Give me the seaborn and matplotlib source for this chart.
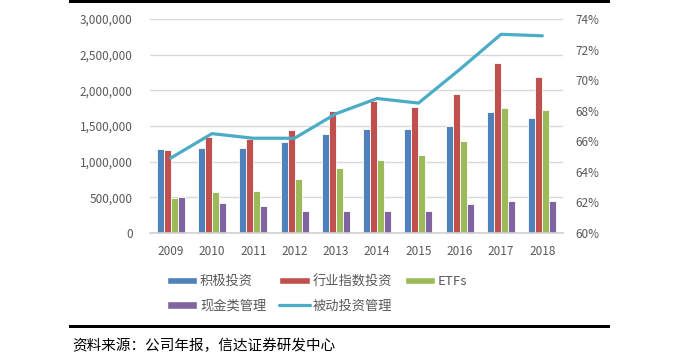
import numpy as np
import pandas as pd
import matplotlib
matplotlib.use("Agg")
import matplotlib.pyplot as plt
from matplotlib.lines import Line2D
from matplotlib.patches import Rectangle
from matplotlib.ticker import FuncFormatter, MultipleLocator
import seaborn as sns

# data
years = ["2009", "2010", "2011", "2012", "2013", "2014", "2015", "2016", "2017", "2018"]
active = [1173000, 1191000, 1191000, 1280000, 1392000, 1458000, 1458000, 1500000, 1692000, 1617000]
index_funds = [1159000, 1350000, 1322000, 1440000, 1710000, 1855000, 1771000, 1944000, 2383000, 2182000]
etfs = [486000, 575000, 593000, 753000, 907000, 1019000, 1093000, 1285000, 1757000, 1724000]
cash = [500000, 420000, 374000, 308000, 308000, 308000, 308000, 406000, 448000, 448000]
passive_share = [64.9, 66.5, 66.2, 66.2, 67.8, 68.8, 68.5, 70.7, 73.0, 72.9]

bar_names = ["积极投资", "行业指数投资", "ETFs", "现金类管理"]
line_name = "被动投资管理"
bar_colors = ["#4F81BD", "#C0504D", "#9BBB59", "#8064A2"]
line_color = "#4BACC6"
text_grey = "#595959"

df = pd.DataFrame({
    "year": years * 4,
    "series": [n for n in bar_names for _ in years],
    "value": active + index_funds + etfs + cash,
})

sns.set_style("white")
plt.rcParams["font.family"] = ["Noto Sans CJK SC", "DejaVu Sans"]

W, H = 676, 364
fig = plt.figure(figsize=(W / 100, H / 100), dpi=100)
ax = fig.add_axes([150 / W, 1 - 233 / H, (563 - 150) / W, (233 - 19) / H])

sns.barplot(data=df, x="year", y="value", hue="series", hue_order=bar_names,
            palette=bar_colors, width=0.68, edgecolor="white", linewidth=0.6,
            saturation=1, ax=ax, legend=False)

ax.set_ylim(0, 3000000)
ax.yaxis.set_major_locator(MultipleLocator(500000))
ax.yaxis.set_major_formatter(FuncFormatter(lambda v, p: f"{v:,.0f}"))
ax.grid(axis="y", color="#D9D9D9", linewidth=1)
ax.set_axisbelow(True)
for s in ["left", "right", "top"]:
    ax.spines[s].set_visible(False)
ax.spines["bottom"].set_color("#D0D0D0")
ax.spines["bottom"].set_linewidth(1.2)
ax.set_xlabel("")
ax.set_ylabel("")
ax.tick_params(axis="both", length=0, labelsize=8.5, labelcolor=text_grey)
ax.tick_params(axis="y", pad=12.5)
ax.tick_params(axis="x", pad=9)

ax2 = ax.twinx()
sns.lineplot(x=np.arange(len(years)), y=passive_share, color=line_color,
             linewidth=2.3, ax=ax2)
ax2.set_ylim(60, 74)
ax2.yaxis.set_major_locator(MultipleLocator(2))
ax2.yaxis.set_major_formatter(FuncFormatter(lambda v, p: f"{v:.0f}%"))
for s in ax2.spines.values():
    s.set_visible(False)
ax2.tick_params(axis="y", length=0, labelsize=8.5, labelcolor=text_grey, pad=8.8)
ax2.set_ylabel("")
ax.set_xlim(-0.5, len(years) - 0.5)

# legend, filled column-wise so rows read like the reference
patches = [Rectangle((0, 0), 1, 1, facecolor=c) for c in bar_colors]
line_h = Line2D([], [], color=line_color, linewidth=2.3)
handles = [patches[0], patches[3], patches[1], line_h, patches[2]]
labels = [bar_names[0], bar_names[3], bar_names[1], line_name, bar_names[2]]
fig.legend(handles, labels, loc="upper left", bbox_to_anchor=(167 / W, 1 - 275 / H),
           ncol=3, frameon=False, fontsize=9.5, labelcolor=text_grey,
           handlelength=2.3, handleheight=0.55, handletextpad=0.2,
           columnspacing=1.0, labelspacing=0.85, borderpad=0, borderaxespad=0)

# black rules at top and bottom
fig.add_artist(Rectangle((69 / W, 1 - 3 / H), (610 - 69) / W, 3 / H,
                         transform=fig.transFigure, color="black", lw=0))
fig.add_artist(Rectangle((69 / W, 1 - 327.5 / H), (610 - 69) / W, 2.5 / H,
                         transform=fig.transFigure, color="black", lw=0))

fig.text(72 / W, 1 - 346 / H, "资料来源：公司年报，信达证券研发中心",
         fontsize=10.5, color="black", va="center", ha="left", style="italic")

fig.savefig("out.png", dpi=100)
